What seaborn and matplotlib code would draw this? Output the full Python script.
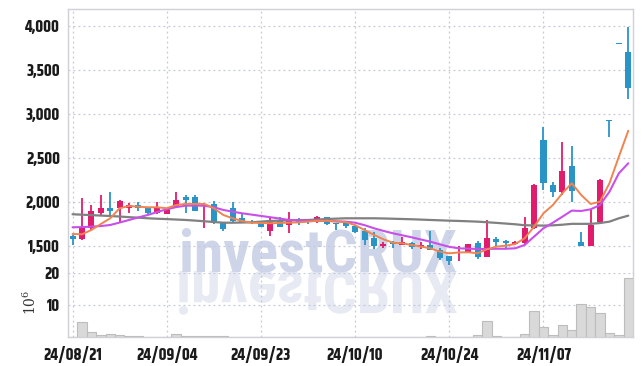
import numpy as np
import pandas as pd
import matplotlib
matplotlib.use("Agg")
import matplotlib.pyplot as plt
import seaborn as sns
from matplotlib.textpath import TextPath
from matplotlib.font_manager import FontProperties
from matplotlib.patches import PathPatch
from matplotlib.transforms import Affine2D

# ---------------- data ----------------
opens = [1617, 1580, 1705, 1882, 1935, 1932, 1932, 1969, 1932, 1875,
         1870, 1950, 2057, 2057, 1958, 1981, 1768, 1932, 1820, 1775,
         1768, 1678, 1784, 1746, 1784, 1793, 1784, 1830, 1765, 1773,
         1735, 1670, 1598, 1507, 1546, 1515, 1541, 1489, 1512, 1459,
         1387, 1421, 1440, 1534, 1382, 1583, 1564, 1521, 1534, 1705,
         2708, 2197, 2120, 2416, 1546, 1507, 1780, 2935, 3805, 3711]
highs = [1625, 2045, 1969, 2083, 2117, 2025, 1992, 2003, 1935, 2000,
         1935, 2114, 2083, 2083, 1989, 2015, 1770, 2000, 1864, 1801,
         1775, 1818, 1830, 1893, 1820, 1812, 1845, 1835, 1770, 1790,
         1740, 1705, 1666, 1552, 1560, 1606, 1545, 1552, 1678, 1477,
         1390, 1499, 1530, 1564, 1793, 1610, 1570, 1555, 1830, 2208,
         2859, 2234, 2688, 2640, 1659, 1920, 2260, 2940, 3805, 3988]
lows = [1515, 1575, 1685, 1856, 1844, 1780, 1875, 1898, 1870, 1870,
        1865, 1950, 1875, 1900, 1705, 1755, 1677, 1768, 1765, 1750,
        1720, 1622, 1720, 1648, 1741, 1750, 1770, 1745, 1680, 1705,
        1648, 1515, 1466, 1477, 1477, 1510, 1470, 1466, 1455, 1345,
        1288, 1331, 1435, 1353, 1380, 1490, 1477, 1515, 1530, 1700,
        2140, 2064, 2083, 2000, 1500, 1500, 1775, 2745, 3795, 3170]
closes = [1580, 1716, 1905, 1932, 1901, 2018, 1969, 1932, 1875, 1943,
          1932, 2026, 2026, 1905, 1981, 1761, 1693, 1791, 1775, 1761,
          1723, 1772, 1723, 1784, 1761, 1784, 1830, 1750, 1750, 1727,
          1659, 1576, 1507, 1523, 1523, 1546, 1496, 1515, 1459, 1371,
          1331, 1440, 1523, 1382, 1591, 1552, 1534, 1550, 1705, 2197,
          2216, 2120, 2356, 2132, 1507, 1742, 2253, 2925, 3800, 3302]
ma5 = [1640, 1636, 1685, 1753, 1818, 1932, 1958, 1950, 1943, 1943,
       1932, 1969, 1981, 1981, 1981, 1932, 1856, 1818, 1788, 1768,
       1765, 1762, 1765, 1768, 1772, 1780, 1790, 1790, 1780, 1775,
       1740, 1685, 1630, 1580, 1541, 1534, 1515, 1496, 1477, 1439,
       1420, 1430, 1432, 1421, 1466, 1496, 1507, 1526, 1591, 1723,
       1875, 1969, 2102, 2216, 2083, 1981, 2007, 2216, 2518, 2813]
ma10 = [1716, 1718, 1723, 1730, 1742, 1770, 1799, 1828, 1856, 1890,
        1920, 1945, 1961, 1963, 1961, 1943, 1913, 1893, 1875, 1860,
        1845, 1830, 1815, 1799, 1795, 1791, 1790, 1788, 1784, 1780,
        1768, 1740, 1705, 1675, 1648, 1625, 1602, 1577, 1552, 1522,
        1494, 1477, 1473, 1470, 1470, 1472, 1472, 1477, 1515, 1610,
        1705, 1768, 1836, 1905, 1901, 1920, 1969, 2120, 2329, 2443]
ma60 = [1864, 1859, 1854, 1849, 1844, 1838, 1831, 1825, 1818, 1813,
        1809, 1804, 1799, 1792, 1784, 1776, 1768, 1768, 1770, 1772,
        1780, 1788, 1791, 1795, 1797, 1799, 1804, 1810, 1814, 1818,
        1818, 1818, 1818, 1816, 1813, 1810, 1807, 1803, 1799, 1795,
        1791, 1788, 1784, 1780, 1773, 1766, 1758, 1750, 1739, 1737,
        1735, 1738, 1745, 1755, 1755, 1755, 1764, 1780, 1818, 1848]
volume_m = [0.2, 4.6, 1.5, 0.6, 0.9, 0.6, 0.3, 0.3, 0.1, 0.1,
            0.1, 1.0, 0.3, 0.3, 0.3, 0.3, 0.3, 0.2, 0.1, 0.1,
            0.1, 0.1, 0.1, 0.1, 0.1, 0.1, 0.1, 0.1, 0.1, 0.1,
            0.1, 0.1, 0.1, 0.1, 0.1, 0.1, 0.1, 0.1, 0.3, 0.1,
            0.2, 0.2, 0.2, 0.7, 4.9, 0.3, 0.1, 0.1, 1.0, 8.0,
            3.2, 0.7, 3.8, 2.3, 10.3, 9.4, 7.5, 1.3, 0.7, 18.3]
tick_idx = [0, 10, 20, 30, 40, 50]
tick_labels = ["24/08/21", "24/09/04", "24/09/23", "24/10/10", "24/10/24", "24/11/07"]
price_ticks = [1500, 2000, 2500, 3000, 3500, 4000]
vol_ticks = [10, 20]
watermark = "investCRUX"

# ---------------- style ----------------
sns.set_style("white")
UP = "#e01c6c"
DOWN = "#2b94c6"
GRID = "#c4c8dc"
SPINE = "#d0d0d8"
TICKFONT = ["Khand", "DejaVu Sans"]

df = pd.DataFrame({"i": np.arange(len(closes)), "open": opens, "high": highs,
                   "low": lows, "close": closes, "ma5": ma5, "ma10": ma10,
                   "ma60": ma60, "vol": volume_m})

W, H = 642, 366
fig = plt.figure(figsize=(W / 100, H / 100), dpi=100)
left, right = 68.3 / W, 632.7 / W
p_top, p_bot = 9.3, 272.7
v_bot = 337.3
axp = fig.add_axes([left, 1 - p_bot / H, right - left, (p_bot - p_top) / H])
axv = fig.add_axes([left, 1 - v_bot / H, right - left, (v_bot - p_bot) / H])
for a in (axp, axv):
    a.set_facecolor("none")

# ---- watermark: real text + mirrored reflection ----
wx0, wx1 = 179, 457
base_y = 271
wm_fp = FontProperties(family=["Roboto Condensed", "DejaVu Sans"], weight="black")
wm = fig.text(wx0 / W, 1 - base_y / H, watermark, fontproperties=wm_fp,
              fontsize=36, color="#cfd5e8", ha="left", va="baseline", zorder=-1)
fig.canvas.draw()
bb = wm.get_window_extent()
fs = 36 * (wx1 - wx0) / bb.width
wm.set_fontsize(fs)
size_px = fs * 100 / 72
tp = TextPath((0, 0), watermark, size=size_px, prop=wm_fp)
ext = tp.get_extents()
tr_refl = Affine2D().translate(-ext.x0, 0).scale((wx1 - wx0) / ext.width, -1.0).translate(wx0, H - base_y)
fig.patches.append(PathPatch(tr_refl.transform_path(tp), facecolor="#e7eaf3",
                             edgecolor="none", transform=None, zorder=-2))

# ---- candles ----
up = df["close"] >= df["open"]
cols = np.where(up, UP, DOWN)
axp.vlines(df["i"], df["low"], df["high"], colors=cols, linewidth=1.3, zorder=3)
body_lo = np.minimum(df["open"], df["close"])
body_h = np.maximum(np.abs(df["close"] - df["open"]), 10)
axp.bar(df["i"], body_h, bottom=body_lo, width=0.64, color=cols, zorder=4,
        linewidth=0)

# ---- moving averages ----
sns.lineplot(data=df, x="i", y="ma60", color="#808080", linewidth=1.6, ax=axp, zorder=5)
sns.lineplot(data=df, x="i", y="ma10", color="#c850e8", linewidth=1.5, ax=axp, zorder=6)
sns.lineplot(data=df, x="i", y="ma5", color="#ef8450", linewidth=1.4, ax=axp, zorder=7)

axp.set_xlim(-0.45, 59.47)
axp.set_ylim(1200, 4192)
axp.set_yticks(price_ticks)
axp.set_yticklabels([f"{t:,}" for t in price_ticks])
axp.set_xticks(tick_idx)
axp.set_xticklabels([])
axp.set_xlabel("")
axp.set_ylabel("")

# ---- volume ----
sns.barplot(data=df, x="i", y="vol", color="#d9d9d9", saturation=1, width=1.0,
            edgecolor="#bdbdbd", linewidth=0.8, ax=axv, zorder=3)
axv.set_xlim(-0.45, 59.47)
axv.set_ylim(0, 20)
axv.set_yticks(vol_ticks)
axv.set_yticklabels([str(t) for t in vol_ticks])
axv.set_xticks(tick_idx)
axv.set_xticklabels(tick_labels)
axv.set_xlabel("")
axv.set_ylabel("")

for a in (axp, axv):
    a.grid(True, linestyle=(0, (1.5, 2.5)), color=GRID, linewidth=0.9, zorder=0)
    a.set_axisbelow(True)
    a.tick_params(length=0, pad=6, labelsize=12, labelcolor="#1a1a1a")
    for lab in a.get_xticklabels() + a.get_yticklabels():
        lab.set_family(TICKFONT)
        lab.set_fontweight("bold")
    for s in a.spines.values():
        s.set_color(SPINE)
        s.set_linewidth(1.0)
axp.spines["bottom"].set_visible(False)
axv.spines["top"].set_visible(False)

fig.text(30 / W, 1 - 302 / H, r"$\mathregular{10^6}$", rotation=90, ha="center",
         va="center", fontsize=10, family="DejaVu Serif", color="#333333")

fig.savefig("out.png", dpi=100)
